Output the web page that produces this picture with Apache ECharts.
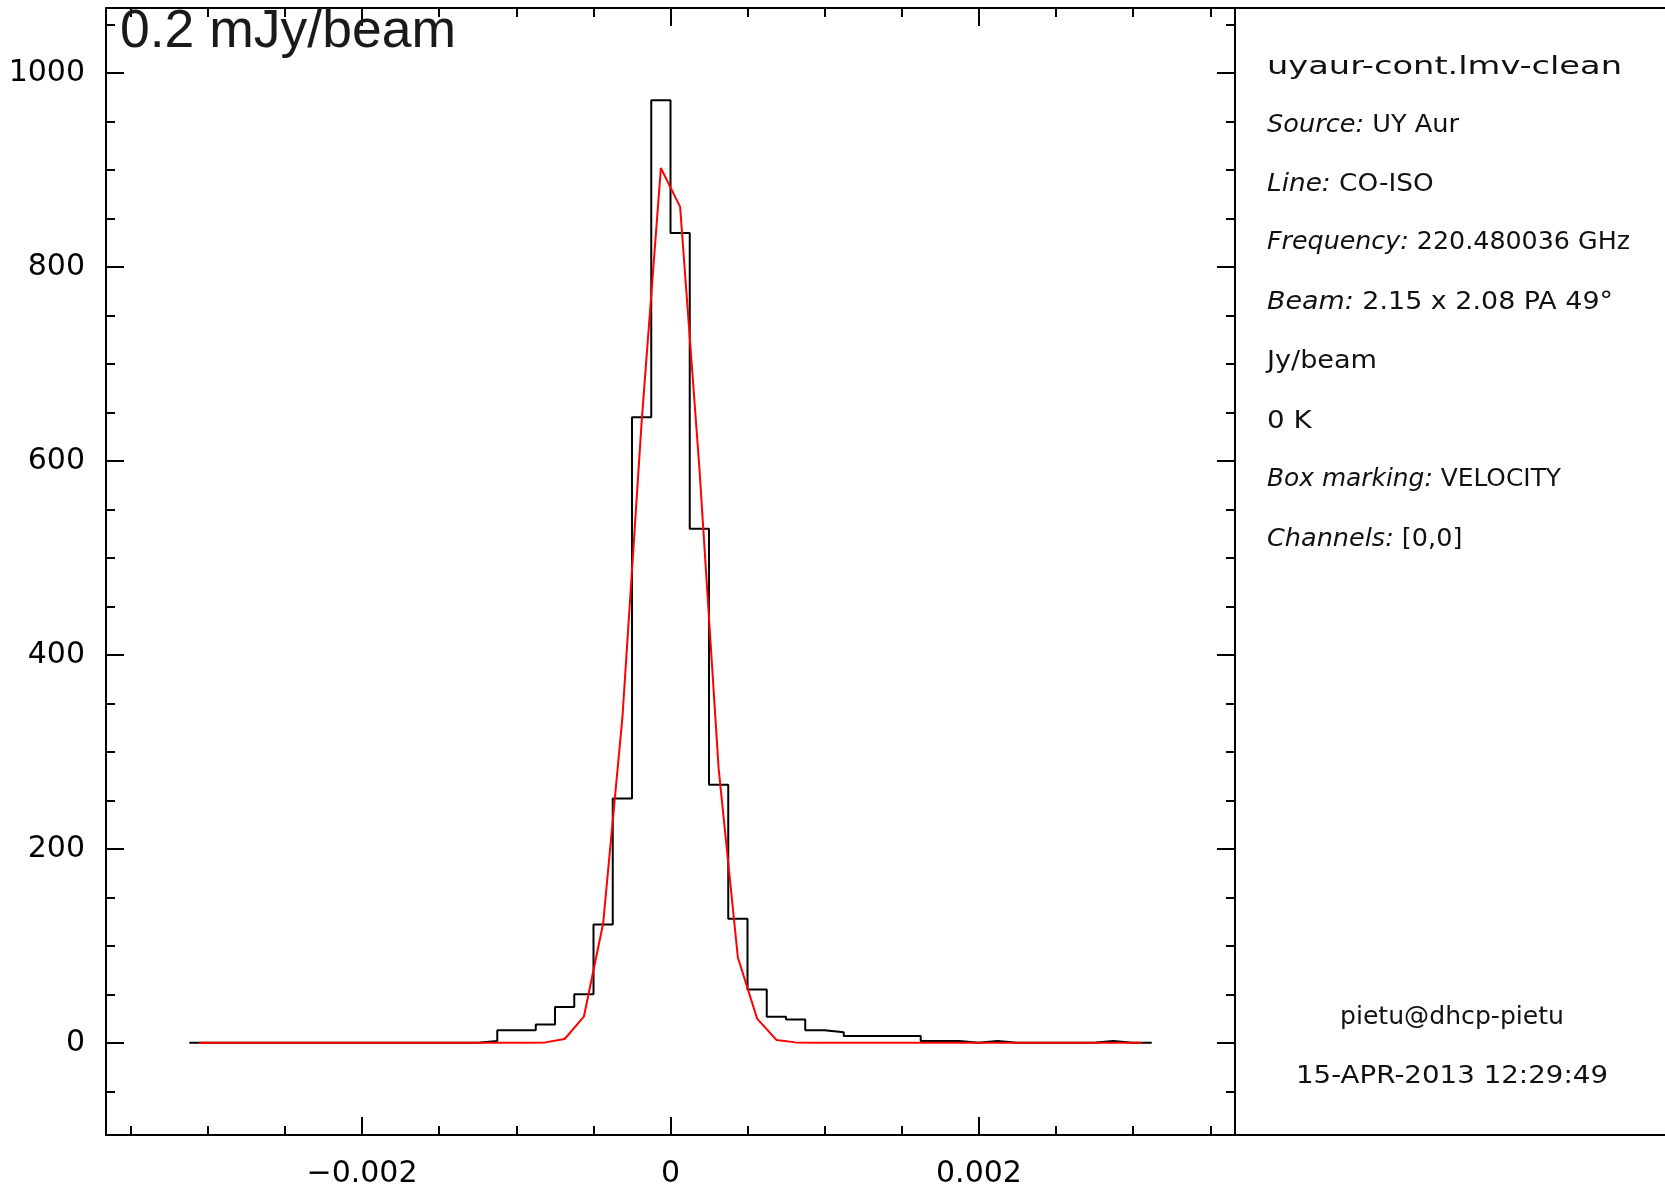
<!DOCTYPE html>
<html><head><meta charset="utf-8">
<script src="https://cdn.jsdelivr.net/npm/echarts@6/dist/echarts.min.js"></script>
<style>html,body{margin:0;padding:0;background:#fff}#c{width:1665px;height:1188px}</style>
</head><body><div id="c"></div>
<script>
// ---- data ----
const binStart = -0.00312;
const binWidth = 0.0001248;
const counts = [0,0,0,0,0,0,0,0,0,0, 0,0,0,0,0,2,13,13,19,37,
                50,122,252,645,972,835,530,266,128,55,
                27,24,13,11,7,7,7,7,2,2, 0,2,0,0,0,0,0,2,0,0];
const fitValues = [0,0,0,0,0,0,0,0,0,0, 0,0,0,0,0,0,0,0,0.5,4,
                   27,123,335,640,902,862,593,283,88,25,
                   3,0.5,0,0,0,0,0,0,0,0, 0,0,0,0,0,0,0,0,0,0];
const xMajorTicks = [-0.002, 0, 0.002];
const xMinorTicks = [-0.0035,-0.003,-0.0025,-0.0015,-0.001,-0.0005,0.0005,0.001,0.0015,0.0025,0.003,0.0035];
const yMajorTicks = [0,200,400,600,800,1000];
const yMinorTicks = [-50,50,100,150,250,300,350,450,500,550,650,700,750,850,900,950,1050];
const xMin = -0.00366, xMax = 0.00366;
const yMin = -95, yMax = 1067;

const headerText = '0.2 mJy/beam';
const panelLines = [
  ['', 'uyaur-cont.lmv-clean'],
  ['Source:', ' UY Aur'],
  ['Line:', ' CO-ISO'],
  ['Frequency:', ' 220.480036 GHz'],
  ['Beam:', ' 2.15 x 2.08 PA 49\u00b0'],
  ['', 'Jy/beam'],
  ['', '0 K'],
  ['Box marking:', ' VELOCITY'],
  ['Channels:', ' [0,0]']
];
const footerLines = ['pietu@dhcp-pietu', '15-APR-2013 12:29:49'];

// ---- layout ----
const panelY = [67.5, 125.5, 185, 243, 302.5, 362, 421.5, 480, 539.5];
const panelW = [355, 192, 166.6, 363, 346, 110, 44.6, 294, 195.4];
const panelSize = [25, 24, 24, 24, 24, 24, 24, 24, 24];
const footerY = [1018, 1076.5];
const footerW = [224, 312];

const FONT = 'DejaVu Sans';
const mctx = document.createElement('canvas').getContext('2d');
function tw(str, size, italic) {
  mctx.font = (italic ? 'italic ' : '') + size + 'px "' + FONT + '"';
  return mctx.measureText(str).width;
}

const histData = counts.map((c, k) => [binStart + k * binWidth, c]);
histData.push([binStart + counts.length * binWidth, counts[counts.length - 1]]);
const fitData = fitValues.map((v, k) => [binStart + (k + 0.5) * binWidth, v]);

const labelStyle = {color: '#000', fontFamily: FONT, fontSize: 30};
function fmt(v) {
  if (Math.abs(v) < 1e-12) return '0';
  const s = String(+v.toPrecision(6));
  return s.replace('-', '\u2212');
}
function xAx(pos, ticks, len, showLine, showLabel) {
  return {
    type: 'value', position: pos, min: xMin, max: xMax,
    axisLine: {show: showLine, onZero: false, lineStyle: {color: '#000', width: 2}},
    axisTick: {show: true, inside: true, length: len, customValues: ticks, lineStyle: {color: '#000', width: 2}},
    axisLabel: {show: showLabel, customValues: ticks, margin: 24, formatter: fmt, ...labelStyle},
    splitLine: {show: false}, minorTick: {show: false}, minorSplitLine: {show: false}
  };
}
function yAx(pos, ticks, len, showLine, showLabel) {
  return {
    type: 'value', position: pos, min: yMin, max: yMax,
    axisLine: {show: showLine, onZero: false, lineStyle: {color: '#000', width: 2}},
    axisTick: {show: true, inside: true, length: len, customValues: ticks, lineStyle: {color: '#000', width: 2}},
    axisLabel: {show: showLabel, customValues: ticks, margin: 21, formatter: fmt, ...labelStyle},
    splitLine: {show: false}, minorTick: {show: false}, minorSplitLine: {show: false}
  };
}

const graphics = [];
graphics.push({type: 'line', shape: {x1: 1234, y1: 8, x2: 1665, y2: 8}, style: {stroke: '#000', lineWidth: 2}, z: 10});
graphics.push({type: 'line', shape: {x1: 1234, y1: 1135, x2: 1665, y2: 1135}, style: {stroke: '#000', lineWidth: 2}, z: 10});
panelLines.forEach((L, i) => {
  const size = panelSize[i];
  const w = tw(L[0], size, true) + tw(L[1], size, false);
  const sx = panelW[i] / w;
  graphics.push({
    type: 'text', x: 1267, y: panelY[i], scaleX: sx, z: 10,
    style: {
      text: L[0] ? '{i|' + L[0] + '}' + L[1] : L[1],
      fontSize: size, fontFamily: FONT, fill: '#111',
      align: 'left', verticalAlign: 'middle',
      rich: {i: {fontStyle: 'italic', fontSize: size, fontFamily: FONT, fill: '#111'}}
    }
  });
});
footerLines.forEach((t, i) => {
  const size = 24;
  const sx = footerW[i] / tw(t, size, false);
  graphics.push({
    type: 'text', x: 1452, y: footerY[i], scaleX: sx, z: 10,
    style: {text: t, fontSize: size, fontFamily: FONT, fill: '#111', align: 'center', verticalAlign: 'middle'}
  });
});
graphics.push({
  type: 'text', x: 120, y: 32, z: 20,
  style: {text: headerText, fontSize: 53.5, fontFamily: 'Liberation Sans', fill: '#1a1a1a', align: 'left', verticalAlign: 'middle'}
});

const chart = echarts.init(document.getElementById('c'), null, {renderer: 'canvas'});
chart.setOption({
  animation: false,
  backgroundColor: '#fff',
  grid: {left: 106, top: 8, right: 430, bottom: 53, containLabel: false, outerBoundsMode: 'none'},
  xAxis: [
    xAx('bottom', xMajorTicks, 18, true, true),
    xAx('bottom', xMinorTicks, 9, false, false),
    xAx('top', xMajorTicks, 18, true, false),
    xAx('top', xMinorTicks, 9, false, false)
  ],
  yAxis: [
    yAx('left', yMajorTicks, 18, true, true),
    yAx('left', yMinorTicks, 9, false, false),
    yAx('right', yMajorTicks, 18, true, false),
    yAx('right', yMinorTicks, 9, false, false)
  ],
  series: [
    {type: 'line', step: 'end', data: histData, symbol: 'none', showSymbol: false,
     lineStyle: {color: '#000', width: 2}, itemStyle: {color: '#000'}, z: 2, silent: true},
    {type: 'line', data: fitData, symbol: 'none', showSymbol: false,
     lineStyle: {color: '#ff0000', width: 2}, itemStyle: {color: '#ff0000'}, z: 3, silent: true}
  ],
  graphic: graphics
});
</script></body></html>
